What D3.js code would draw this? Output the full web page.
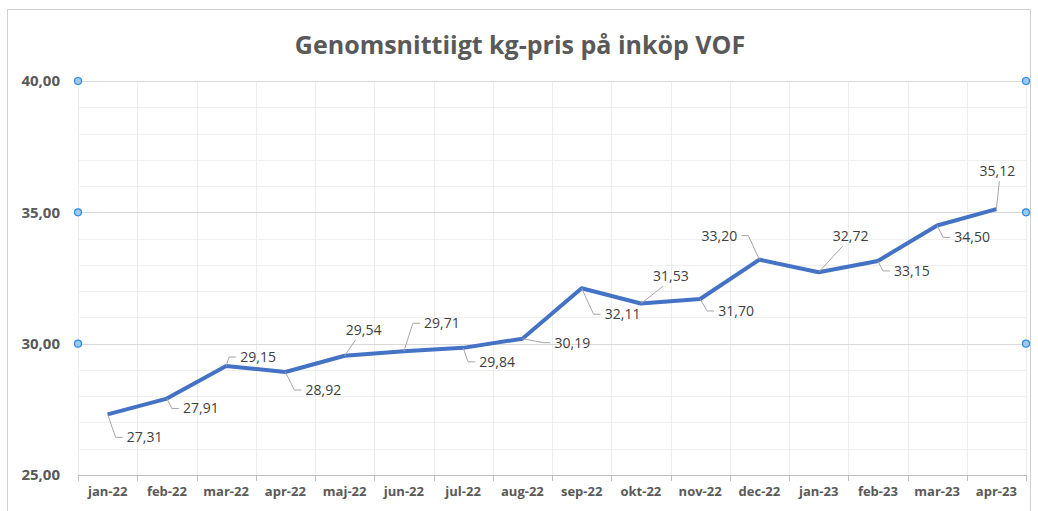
<!DOCTYPE html>
<html><head><meta charset="utf-8">
<script src="https://cdn.jsdelivr.net/npm/d3@7"></script>
<style>body{margin:0;background:#fff}</style>
</head><body>
<svg id="c" width="1038" height="511"></svg>
<script>
const categories = ["jan-22","feb-22","mar-22","apr-22","maj-22","jun-22","jul-22","aug-22","sep-22","okt-22","nov-22","dec-22","jan-23","feb-23","mar-23","apr-23"];
const values = [27.31,27.91,29.15,28.92,29.54,29.71,29.84,30.19,32.11,31.53,31.70,33.20,32.72,33.15,34.50,35.12];
const yTicks = [25,30,35,40];
const title = "Genomsnittiigt kg-pris på inköp VOF";
// label placement (offset of label centre from its point, leader style)
const labelLayout = [
 [37,23,"l"],[34,10,"l"],[32,-9,"l"],[38,18,"l"],[19,-26,"b"],[38,-28,"l"],[34,14,"l"],[50,4,"l"],
 [41,26,"l"],[30,-27,"b"],[36,12,"l"],[-40,-24,"r"],[32,-36,"b"],[34,10,"l"],[35,12,"l"],[1,-38,"b"]
];

const svg = d3.select("#c");
const L = 78, R = 1026, T = 81, B = 475;
const x = d3.scaleBand().domain(categories).range([L, R]).padding(0);
const y = d3.scaleLinear().domain([25, 40]).range([B, T]);
const fmt = v => v.toFixed(2).replace(".", ",");

// frame
svg.append("rect").attr("x",7.5).attr("y",9.5).attr("width",1023).attr("height",520)
  .attr("fill","none").attr("stroke","#d0d0d0");

// minor horizontal grid
svg.append("g").selectAll("line").data(d3.range(26,40).filter(v=>v%5!==0)).join("line")
  .attr("x1",L).attr("x2",R).attr("y1",d=>Math.round(y(d))+0.5).attr("y2",d=>Math.round(y(d))+0.5)
  .attr("stroke","#efefef");
// vertical grid
svg.append("g").selectAll("line").data(d3.range(categories.length+1)).join("line")
  .attr("x1",i=>Math.round(L+x.bandwidth()*i)+0.5).attr("x2",i=>Math.round(L+x.bandwidth()*i)+0.5)
  .attr("y1",T).attr("y2",B).attr("stroke","#ececec");
// major grid
svg.append("g").selectAll("line").data(yTicks.slice(1)).join("line")
  .attr("x1",L).attr("x2",R).attr("y1",d=>Math.round(y(d))+0.5).attr("y2",d=>Math.round(y(d))+0.5)
  .attr("stroke","#d9d9d9");

// y axis labels
const yAxis = d3.axisLeft(y).tickValues(yTicks).tickFormat(fmt).tickSize(0).tickPadding(18);
const gy = svg.append("g").attr("transform",`translate(${L},0)`).call(yAxis);
gy.select(".domain").remove();
gy.selectAll("text").attr("font-family","'Open Sans', sans-serif").attr("font-size","15px")
  .attr("font-weight","bold").attr("fill","#595959");

// x axis
const xAxis = d3.axisBottom(x).tickSize(0).tickPadding(12);
const gx = svg.append("g").attr("transform",`translate(0,${B})`).call(xAxis);
gx.select(".domain").attr("stroke","#bfbfbf").attr("d",`M${L},0.5H${R}`);
gx.selectAll("text").attr("font-family","'Open Sans', sans-serif").attr("font-size","13px")
  .attr("font-weight","bold").attr("fill","#595959");
gx.append("g").selectAll("line").data(d3.range(categories.length+1)).join("line")
  .attr("x1",i=>Math.round(L+x.bandwidth()*i)+0.5).attr("x2",i=>Math.round(L+x.bandwidth()*i)+0.5)
  .attr("y1",0).attr("y2",6).attr("stroke","#bfbfbf");

// line
const cx = d => x(d) + x.bandwidth()/2;
svg.append("path").datum(values)
  .attr("d", d3.line().x((d,i)=>cx(categories[i])).y(d=>y(d)))
  .attr("fill","none").attr("stroke","#4472c4").attr("stroke-width",4).attr("stroke-linejoin","round");

// data labels
const lg = svg.append("g");
values.forEach((v,i)=>{
  const px = cx(categories[i]), py = y(v);
  const [dx,dy,type] = labelLayout[i];
  const lx = px+dx, ly = py+dy;
  const hw = 20, hh = 8;
  let pts;
  if (type==="l") pts = [[px,py],[lx-hw-9,ly],[lx-hw-2,ly]];
  else if (type==="r") pts = [[px,py],[lx+hw+9,ly],[lx+hw+2,ly]];
  else pts = [[px,py],[lx+(dx>10?-8:2),ly+hh+2]];
  lg.append("path").attr("d",d3.line()(pts)).attr("fill","none").attr("stroke","#a6a6a6").attr("stroke-width",1);
  lg.append("text").attr("x",lx).attr("y",ly).attr("dy","0.35em").attr("text-anchor","middle")
    .attr("font-family","'Open Sans', sans-serif").attr("font-size","14px").attr("fill","#404040")
    .text(fmt(v));
});

// selection handles
const hs = svg.append("g");
yTicks.slice(1).forEach(t=>{
  [L,R].forEach(hx=>{
    hs.append("circle").attr("cx",hx).attr("cy",y(t)).attr("r",3.5)
      .attr("fill","#9ccaf3").attr("stroke","#2a8ae6").attr("stroke-width",1.2);
  });
});

// title
svg.append("text").attr("x",520).attr("y",45).attr("dy","0.35em").attr("text-anchor","middle")
  .attr("font-family","'Open Sans', sans-serif").attr("font-size","25px").attr("font-weight","bold")
  .attr("fill","#595959").text(title);
</script>
</body></html>
